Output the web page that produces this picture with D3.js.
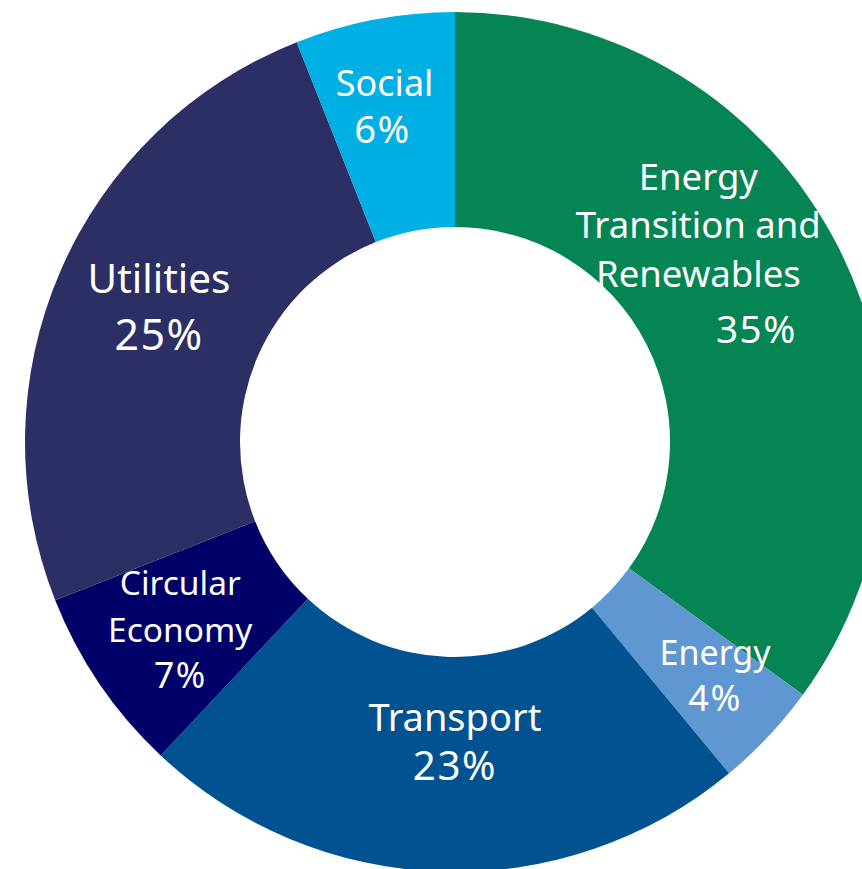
<!DOCTYPE html>
<html><head><meta charset="utf-8">
<script src="https://cdn.jsdelivr.net/npm/d3@7"></script>
<style>html,body{margin:0;padding:0;background:#fff;overflow:hidden}</style>
</head><body>
<svg id="c" width="862" height="869"></svg>
<script>
const categories = ["Energy Transition and Renewables","Energy","Transport","Circular Economy","Utilities","Social"];
const values = [35,4,23,7,25,6];
const nameLines = [["Energy","Transition and","Renewables"],["Energy"],["Transport"],["Circular","Economy"],["Utilities"],["Social"]];
const colors = ["#068554","#5e97d1","#005291","#000069","#2c2f64","#00afe3"];

// label layout (offsets from slice centroid, font size, line height, pct offset)
const layout = [
  {dx:-44, dy:-106, fs:36.5, lh:48.5, pdx:58, pgap:8},
  {dx:25, dy:2, fs:34, lh:46, pdx:0, pgap:0},
  {dx:10, dy:-33, fs:38, lh:49, pdx:0, pgap:0},
  {dx:-8, dy:-28, fs:33.5, lh:46.5, pdx:0, pgap:0},
  {dx:0, dy:-21, fs:40.5, lh:57, pdx:0, pgap:0},
  {dx:-10, dy:-29, fs:36, lh:47, pdx:-2, pgap:0}
];

const cx = 455, cy = 442, R = 430, r = 215;
const svg = d3.select("#c");
const g = svg.append("g").attr("transform", `translate(${cx},${cy})`);
const pie = d3.pie().sort(null).value(d => d)(values);
const arc = d3.arc().innerRadius(r).outerRadius(R);

g.selectAll("path").data(pie).join("path")
  .attr("d", arc).attr("fill", (d,i) => colors[i]);

const labR = d3.arc().innerRadius((r+R)/2).outerRadius((r+R)/2);
pie.forEach((d,i) => {
  const [x,y] = labR.centroid(d);
  const L = layout[i];
  const t = g.append("text")
    .attr("text-anchor","middle")
    .attr("fill","#fff")
    .style("font-family","'Noto Sans', sans-serif")
    .style("font-size", L.fs + "px");
  const lines = nameLines[i];
  lines.forEach((s,k) => {
    t.append("tspan").attr("x", x + L.dx).attr("y", y + L.dy + k*L.lh).text(s);
  });
  t.append("tspan").attr("x", x + L.dx + L.pdx)
    .attr("y", y + L.dy + lines.length*L.lh + L.pgap)
    .style("font-size", (L.fs*1.06) + "px")
    .style("letter-spacing", "1.5px")
    .text(values[i] + "%");
});
</script>
</body></html>
